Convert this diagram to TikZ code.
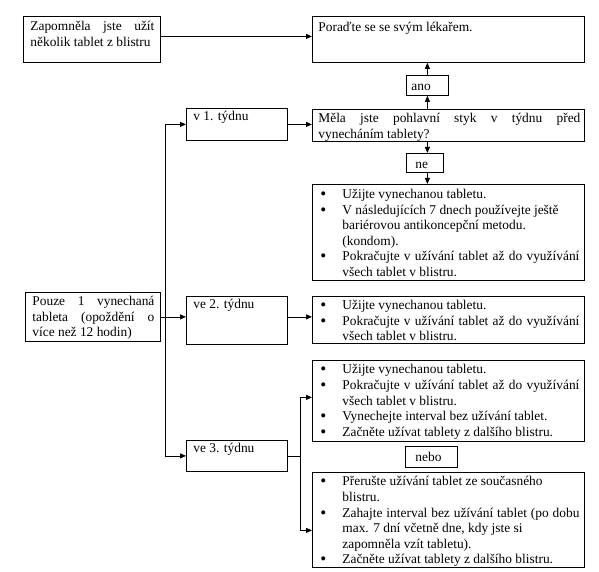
\documentclass[tikz,border=0pt]{standalone}
\usepackage{fontspec}
\setmainfont{Liberation Serif}
\usetikzlibrary{arrows.meta}
\newcommand\jl[2]{\makebox[#1][s]{#2}}
\newcommand\bu{\leavevmode\llap{\makebox[22pt][l]{\raisebox{-1pt}{\fontsize{17}{15.6}\selectfont\textbullet}}}}
\newcommand\cbox[5]{\parbox[b][#2][t]{#1}{\vspace*{#3}\setlength\leftskip{#4}\rightskip=0pt plus 1fil\parindent=0pt\parfillskip=0pt plus 1fil\lineskiplimit=-20pt\strut#5\par}}
\tikzset{
  box/.style={draw, line width=0.8pt, inner sep=0pt, anchor=north west, font=\fontsize{13.4}{15.6}\selectfont},
  arr/.style={-{Triangle[length=6pt,width=5pt]}, line width=0.8pt},
  con/.style={line width=0.8pt}
}
\begin{document}
\begin{tikzpicture}[x=1pt,y=-1pt]
\useasboundingbox (0,0) rectangle (599,572);
\node[box] (A) at (23,16) {\cbox{137pt}{46pt}{3.1pt}{7pt}{\jl{124pt}{Zapomněla jste užít}\\několik tablet z blistru}};
\node[box] (B) at (312,16) {\cbox{272pt}{46pt}{4.1pt}{6pt}{Poraďte se se svým lékařem.}};
\node[box] (ano) at (406,75) {\cbox{42pt}{20pt}{4.3pt}{5pt}{ano}};
\node[box] (Q) at (312,109) {\cbox{272pt}{32pt}{2.1pt}{6pt}{\jl{262pt}{Měla jste pohlavní styk v týdnu před}\\vynecháním tablety?}};
\node[box] (ne) at (406,153) {\cbox{37pt}{19pt}{4.3pt}{9pt}{ne}};
\node[box] (C) at (312,184) {\cbox{272pt}{96pt}{3.1pt}{30pt}{\bu Užijte vynechanou tabletu.\\\bu V následujících 7 dnech používejte ještě\\bariérovou antikoncepční metodu.\\(kondom).\\\bu \jl{237pt}{Pokračujte v užívání tablet až do využívání}\\všech tablet v blistru.}};
\node[box] (v1) at (186,108) {\cbox{101pt}{32pt}{1.5pt}{7pt}{v 1. týdnu}};
\node[box] (F) at (25,292) {\cbox{135pt}{49pt}{2.1pt}{7pt}{\jl{122pt}{Pouze 1 vynechaná}\\\jl{122pt}{tableta (opoždění o}\\více než 12 hodin)}};
\node[box] (ve2) at (186,296) {\cbox{101pt}{48pt}{1.5pt}{7pt}{ve 2. týdnu}};
\node[box] (D) at (312,296) {\cbox{272pt}{47pt}{2.1pt}{30pt}{\bu Užijte vynechanou tabletu.\\\bu \jl{237pt}{Pokračujte v užívání tablet až do využívání}\\všech tablet v blistru.}};
\node[box] (ve3) at (186,440) {\cbox{101pt}{31pt}{1.5pt}{7pt}{ve 3. týdnu}};
\node[box] (E) at (312,360) {\cbox{272pt}{81pt}{2.6pt}{30pt}{\bu Užijte vynechanou tabletu.\\\bu \jl{237pt}{Pokračujte v užívání tablet až do využívání}\\všech tablet v blistru.\\\bu Vynechejte interval bez užívání tablet.\\\bu Začněte užívat tablety z dalšího blistru.}};
\node[box] (nebo) at (405,446) {\cbox{52pt}{21pt}{4.3pt}{10pt}{nebo}};
\node[box] (G) at (312,472) {\cbox{272pt}{95pt}{2.6pt}{30pt}{\bu Přerušte užívání tablet ze současného\\blistru.\\\bu \jl{237pt}{Zahajte interval bez užívání tablet (po dobu}\\max. 7 dní včetně dne, kdy jste si\\zapomněla vzít tabletu).\\\bu Začněte užívat tablety z dalšího blistru.}};
\coordinate (t) at (165,0);
\coordinate (s) at (300,0);
\coordinate (eIn) at ([yshift=3.5pt]E.west);
\coordinate (gIn) at ([yshift=-10.5pt]G.west);
\draw[arr] ([yshift=3pt]A.east) -- ([yshift=3pt]B.west);
\draw[arr] (Q.north -| ano.south) -- (ano.south);
\draw[arr] (ano.north) -- (ano.north |- B.south);
\draw[arr] (Q.south -| ano.south) -- (ne.north -| ano.south);
\draw[arr] (ne.south -| ano.south) -- (C.north -| ano.south);
\draw[arr] (v1.east) -- (v1.east -| Q.west);
\draw[arr] (t |- F.east) |- (v1.west);
\draw[arr] (t |- F.east) |- (ve3.west);
\draw[arr] (F.east) -- (ve2.west |- F.east);
\draw[arr] (ve2.east |- F.east) -- (D.west |- F.east);
\draw[con] (ve3.east) -- (s |- ve3.east);
\draw[arr] (s |- ve3.east) |- (eIn);
\draw[arr] (s |- ve3.east) |- (gIn);
\end{tikzpicture}
\end{document}
